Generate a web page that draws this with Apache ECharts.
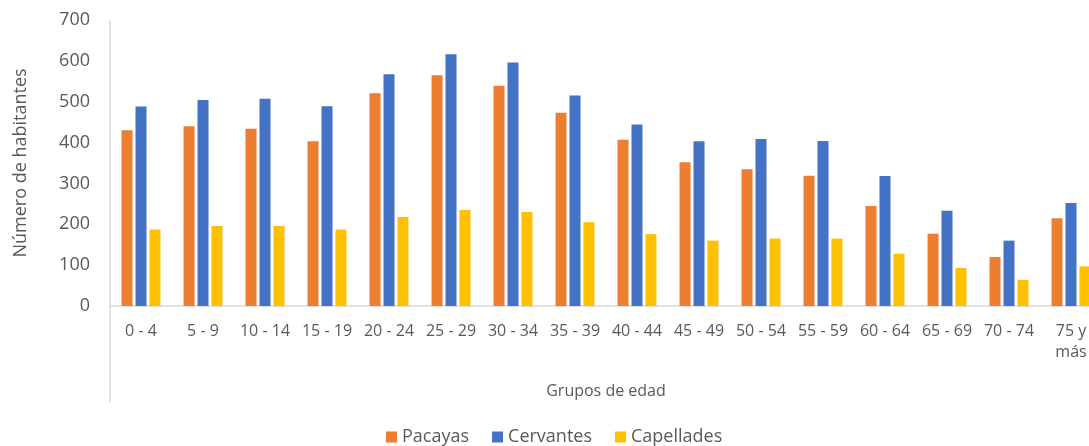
<!DOCTYPE html>
<html>
<head>
<meta charset="utf-8">
<script src="https://cdn.jsdelivr.net/npm/echarts@6/dist/echarts.min.js"></script>
<style>
  html, body { margin: 0; padding: 0; background: #fff; overflow: hidden; }
  /* a bit wider than the window: the original plot is cut off on the right */
  #chart { width: 1102px; height: 446px; }
</style>
</head>
<body>
<div id="chart"></div>
<script>
const ageGroups = ['0 - 4', '5 - 9', '10 - 14', '15 - 19', '20 - 24', '25 - 29', '30 - 34', '35 - 39',
  '40 - 44', '45 - 49', '50 - 54', '55 - 59', '60 - 64', '65 - 69', '70 - 74', '75 y más']
const pacayas = [430, 440, 434, 403, 521, 565, 539, 473, 407, 352, 335, 319, 245, 177, 120, 215]
const cervantes = [488, 504, 507, 489, 567, 616, 596, 515, 444, 403, 409, 404, 318, 233, 160, 252]
const capellades = [187, 196, 196, 187, 218, 235, 230, 205, 176, 160, 165, 165, 128, 93, 64, 97]
const yTicks = [0, 100, 200, 300, 400, 500, 600, 700]

const textColor = '#595959'
const lineColor = '#d9d9d9'
const font = "'Open Sans', sans-serif"

const chart = echarts.init(document.getElementById('chart'))

chart.setOption({
  animation: false,
  textStyle: { fontFamily: font, color: textColor },
  legend: {
    left: 386,
    top: 428,
    padding: 0,
    icon: 'rect',
    itemWidth: 11,
    itemHeight: 11,
    itemGap: 23,
    textStyle: { fontSize: 18, color: textColor, fontFamily: font },
    data: ['Pacayas', 'Cervantes', 'Capellades'],
  },
  grid: { left: 110, top: 20, right: 0, height: 286 },
  xAxis: {
    type: 'category',
    data: ageGroups,
    name: 'Grupos de edad',
    nameLocation: 'middle',
    nameGap: 77,
    nameTextStyle: { fontSize: 16, color: textColor, fontFamily: font },
    axisLine: { lineStyle: { color: lineColor, width: 1.5 } },
    axisTick: {
      show: true,
      length: 96,
      interval: (idx) => idx === 0,
      lineStyle: { color: lineColor, width: 1.5 },
    },
    axisLabel: {
      fontSize: 16,
      color: textColor,
      fontFamily: font,
      margin: 15,
      lineHeight: 21,
      interval: 0,
      formatter: (v) => v.replace('y más', 'y\nmás'),
    },
  },
  yAxis: {
    type: 'value',
    min: yTicks[0],
    max: yTicks[yTicks.length - 1],
    interval: 100,
    name: 'Número de habitantes',
    nameLocation: 'middle',
    nameGap: 80,
    nameTextStyle: { fontSize: 18, color: textColor, fontFamily: font },
    axisLine: { show: true, lineStyle: { color: lineColor, width: 1.5 } },
    axisTick: { show: false },
    splitLine: { show: false },
    axisLabel: { fontSize: 18, color: textColor, fontFamily: font, margin: 20 },
  },
  series: [
    { name: 'Pacayas', type: 'bar', data: pacayas, barWidth: 11, barGap: '27%', itemStyle: { color: '#ED7D31' } },
    { name: 'Cervantes', type: 'bar', data: cervantes, barWidth: 11, barGap: '27%', itemStyle: { color: '#4472C4' } },
    { name: 'Capellades', type: 'bar', data: capellades, barWidth: 11, barGap: '27%', itemStyle: { color: '#FFC000' } },
  ],
})
</script>
</body>
</html>
